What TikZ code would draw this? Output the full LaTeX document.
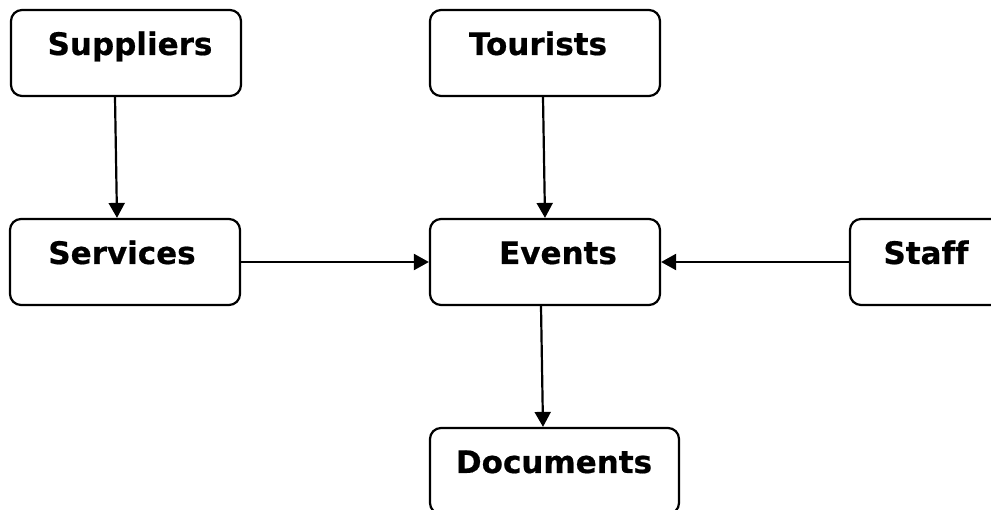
\documentclass[tikz,border=0pt]{standalone}
\usepackage{fontspec}
\setmainfont{DejaVu Sans}[Ligatures=NoCommon, BoldFeatures={FakeBold=0.6}]
\usetikzlibrary{arrows.meta}
\begin{document}
\begin{tikzpicture}[x=1pt,y=-1pt,
  entity/.style={draw=black, line width=2.2pt, rounded corners=11pt,
    minimum width=230pt, minimum height=86pt, inner sep=0pt, fill=white},
  caption/.style={anchor=base, inner sep=0pt,
    font=\fontsize{31}{36}\selectfont\bfseries},
  flow/.style={line width=2.2pt, -{Triangle[length=15pt,width=16pt]}}]
  \path[use as bounding box] (0,0) rectangle (991,510);
  \clip (0,0) rectangle (991,510);
  % entity boxes
  \node[entity] (sup) at (126,53) {};
  \node[entity] (tou) at (545,53) {};
  \node[entity] (ser) at (125,262) {};
  \node[entity] (evt) at (545,262) {};
  \node[entity] (stf) at (965,262) {};
  \node[entity, minimum width=249pt] (doc) at (554.5,471) {};
  % box captions
  \node[caption] (supt) at (130,55) {Suppliers};
  \node[caption] (tout) at (538,55) {Tourists};
  \node[caption] (sert) at (122,264) {Services};
  \node[caption] (evtt) at (558,264) {Events};
  \node[caption] (stft) at (926,264) {Staff};
  \node[caption] (doct) at (554,473) {Documents};
  % flows
  \draw[flow] ([xshift=-11pt]sup.south) -- ([xshift=-8pt]ser.north);
  \draw[flow] ([xshift=-2pt]tou.south) -- (evt.north);
  \draw[flow] (ser.east) -- (evt.west);
  \draw[flow] (stf.west) -- (evt.east);
  \draw[flow] ([xshift=-4pt]evt.south) -- ([xshift=-11.5pt]doc.north);
\end{tikzpicture}
\end{document}
